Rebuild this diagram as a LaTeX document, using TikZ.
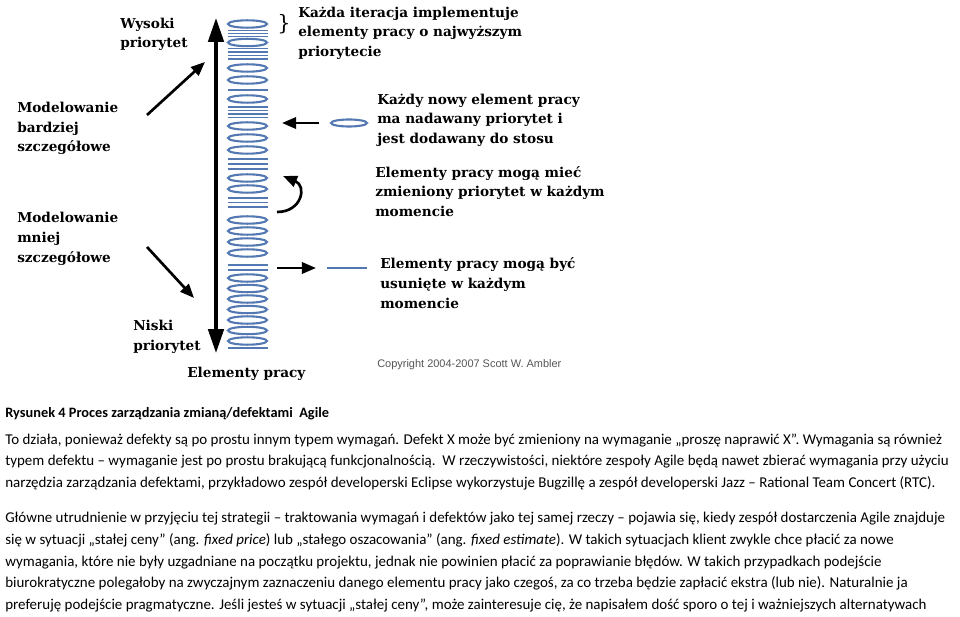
\documentclass[tikz,border=0pt]{standalone}
\usepackage{fontspec}
\setmainfont{Carlito}
\newfontfamily\diagfont{DejaVu Serif}
\newfontfamily\copyfont{Liberation Sans}
\usetikzlibrary{arrows.meta}
\definecolor{stackblue}{RGB}{84,120,178}
\definecolor{copygray}{RGB}{85,85,85}

\begin{document}
\begin{tikzpicture}[x=0.025cm,y=-0.025cm,
	label text/.style={anchor=base west,align=left,inner sep=0pt,
		font=\diagfont\bfseries\fontsize{9.7}{14}\selectfont},
	body line/.style={anchor=base west,inner sep=0pt,font=\fontsize{10.65}{12}\selectfont},
	item/.style={draw=stackblue,line width=1.5pt,fill=white},
	bar/.style={draw=stackblue,line width=1.2pt},
	main arrow/.style={line width=2.4pt,{Triangle[length=17pt,width=11pt]}-{Triangle[length=17pt,width=11pt]}},
	side arrow/.style={line width=1.9pt,-{Triangle[length=10pt,width=8pt]}}]
	\useasboundingbox (0,0) rectangle (960,617);

	% priority axis
	\coordinate (low) at (216,353);
	\coordinate (high) at (216,18);
	\draw[main arrow] (low) -- (high);

	% the stack of work items
	\foreach \y in {30.5,33.5,36.5,48.5,52,55.5,59,90,107,110.5,114,117.5,159,164,169,198,202.5,207,265,270,348}
		\draw[bar] (227.5,\y) -- (267.5,\y);
	\foreach \y in {24,42.5,68,80,99,126,138,150,178,189,220,231,242,253,278,288.5,299,309.5,320,330.5,341}
		\draw[item] (247.5,\y) ellipse (19.5 and 3.7);

	% labels are placed by the baseline of their last line
	\node[label text] (high label) at (120,48) {Wysoki\\priorytet};
	\node[label text] (low label) at (133,350) {Niski\\priorytet};
	\node[label text] (items label) at (187,377) {Elementy pracy};

	\node[label text] (fine) at (17,152) {Modelowanie\\bardziej\\szczegółowe};
	\node[label text] (coarse) at (17,262) {Modelowanie\\mniej\\szczegółowe};
	\coordinate (fine tail) at (147,115);
	\coordinate (fine head) at (205,62);
	\coordinate (coarse tail) at (147,247);
	\coordinate (coarse head) at (194,298);
	\draw[side arrow] (fine tail) -- (fine head);
	\draw[side arrow] (coarse tail) -- (coarse head);

	% right hand notes
	\node[font=\diagfont\fontsize{15}{15}\selectfont,inner sep=0pt] (brace) at (284,24) {\}};
	\node[label text] (iteration) at (298,56.5) {Każda iteracja implementuje\\elementy pracy o najwyższym\\priorytecie};

	\coordinate (new item) at (349,123);
	\draw[item] (new item) ellipse (18 and 3.5);
	\coordinate (new head) at (282,123);
	\coordinate (new tail) at (319,123);
	\draw[side arrow] (new tail) -- (new head);
	\node[label text] (new note) at (377,143.5) {Każdy nowy element pracy\\ma nadawany priorytet i\\jest dodawany do stosu};

	\coordinate (turn start) at (277,212);
	\coordinate (turn end) at (283,176);
	\draw[side arrow] (turn start) .. controls (302,212) and (307,186) .. (turn end);
	\node[label text] (turn note) at (375,216.5) {Elementy pracy mogą mieć\\zmieniony priorytet w każdym\\momencie};

	\coordinate (drop tail) at (277,268);
	\coordinate (drop head) at (316,268);
	\draw[side arrow] (drop tail) -- (drop head);
	\draw[bar,line width=1.4pt] (327,268) -- (367,268);
	\node[label text] (drop note) at (380,308) {Elementy pracy mogą być\\usunięte w każdym\\momencie};

	\node[anchor=base west,inner sep=0pt,text=copygray,font=\copyfont\fontsize{7.8}{9}\selectfont] (copy) at (377,367) {Copyright 2004-2007 Scott W. Ambler};

	% caption and text below
	\node[body line,font=\bfseries\fontsize{10.2}{11}\selectfont] (caption) at (5,417) {Rysunek 4 Proces zarządzania zmianą/defektami\ \ Agile};

	\node[body line] (p1a) at (5,444) {To działa, ponieważ defekty są po prostu innym typem wymagań. Defekt X może być zmieniony na wymaganie „proszę naprawić X”. Wymagania są również};
	\node[body line] (p1b) at (5,465.5) {typem defektu – wymaganie jest po prostu brakującą funkcjonalnością.\ \ W rzeczywistości, niektóre zespoły Agile będą nawet zbierać wymagania przy użyciu};
	\node[body line] (p1c) at (5,487) {narzędzia zarządzania defektami, przykładowo zespół developerski Eclipse wykorzystuje Bugzillę a zespół developerski Jazz – Rational Team Concert (RTC).};

	\node[body line] (p2a) at (5,522) {Główne utrudnienie w przyjęciu tej strategii – traktowania wymagań i defektów jako tej samej rzeczy – pojawia się, kiedy zespół dostarczenia Agile znajduje};
	\node[body line] (p2b) at (5,544) {się w sytuacji „stałej ceny" (ang. \textit{fixed price}) lub „stałego oszacowania" (ang. \textit{fixed estimate}). W takich sytuacjach klient zwykle chce płacić za nowe};
	\node[body line] (p2c) at (5,566) {wymagania, które nie były uzgadniane na początku projektu, jednak nie powinien płacić za poprawianie błędów. W takich przypadkach podejście};
	\node[body line] (p2d) at (5,587.5) {biurokratyczne polegałoby na zwyczajnym zaznaczeniu danego elementu pracy jako czegoś, za co trzeba będzie zapłacić ekstra (lub nie). Naturalnie ja};
	\node[body line] (p2e) at (5,609) {preferuję podejście pragmatyczne. Jeśli jesteś w sytuacji „stałej ceny”, może zainteresuje cię, że napisałem dość sporo o tej i ważniejszych alternatywach};
\end{tikzpicture}
\end{document}
